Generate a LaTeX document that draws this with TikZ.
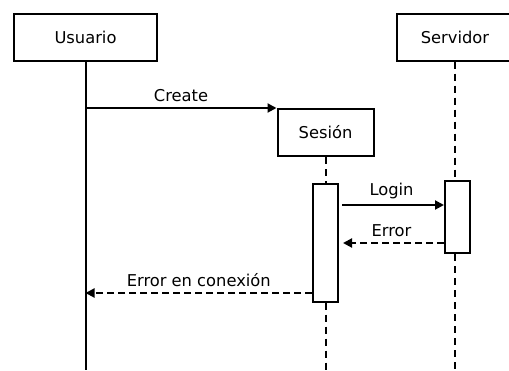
\documentclass[tikz,border=0pt]{standalone}
\usepackage{fontspec}
\setmainfont{DejaVu Sans}
\usetikzlibrary{arrows.meta, positioning}

\tikzset{
	actor/.style={draw, line width=2pt, fill=white, inner sep=0pt, minimum height=47pt},
	activation/.style={draw, line width=2pt, fill=white, minimum width=25pt, inner sep=0pt},
	lifeline/.style={line width=2pt, dash pattern=on 7pt off 5pt},
	call/.style={line width=2pt, -{Triangle[length=9pt,width=9pt]}},
	reply/.style={call, dash pattern=on 7pt off 4pt},
	msg/.style={above, inner sep=5pt}
}

\begin{document}
\begin{tikzpicture}[x=1pt, y=-1pt, font=\fontsize{16.3}{19}\selectfont]
	\clip (0,0) rectangle (509,370);
	\useasboundingbox (0,0) rectangle (509,370);

	% Define nodes
	\node[actor, minimum width=143pt] (usuario) at (85.5,37) {Usuario};
	\node[actor, minimum width=116pt] (servidor) at (455,37) {Servidor};
	\node[actor, minimum width=96pt] (sesion) at (325.5,132.5) {Sesión};

	\node[activation, minimum height=118pt] (barS) at (325.5,242.5) {};
	\node[activation, minimum height=72pt] (barV) at (457.5,217) {};

	% Message heights
	\coordinate (login) at (0,205);
	\coordinate (error) at (0,243);
	\coordinate (fallo) at (0,293);
	\coordinate (bottom) at (0,370);

	% Lifelines
	\draw[line width=2pt] (usuario.south) -- (usuario.south |- bottom);
	\draw[lifeline] (sesion.south) -- (barS.north);
	\draw[lifeline] (barS.south) -- (barS.south |- bottom);
	\draw[lifeline] (servidor.south) -- (servidor.south |- barV.north);
	\draw[lifeline] (servidor.south |- barV.south) -- (servidor.south |- bottom);

	% Messages
	\draw[call] (usuario.south |- sesion.north west) -- node[msg] {Create} (sesion.north west);
	\draw[call, shorten <=3pt] (barS.east |- login) -- node[msg] {Login} (barV.west |- login);
	\draw[reply, shorten >=4pt] (barV.west |- error) -- node[msg] {Error} (barS.east |- error);
	\draw[reply] (barS.west |- fallo) -- node[msg] {Error en conexión} (usuario.south |- fallo);
\end{tikzpicture}
\end{document}
